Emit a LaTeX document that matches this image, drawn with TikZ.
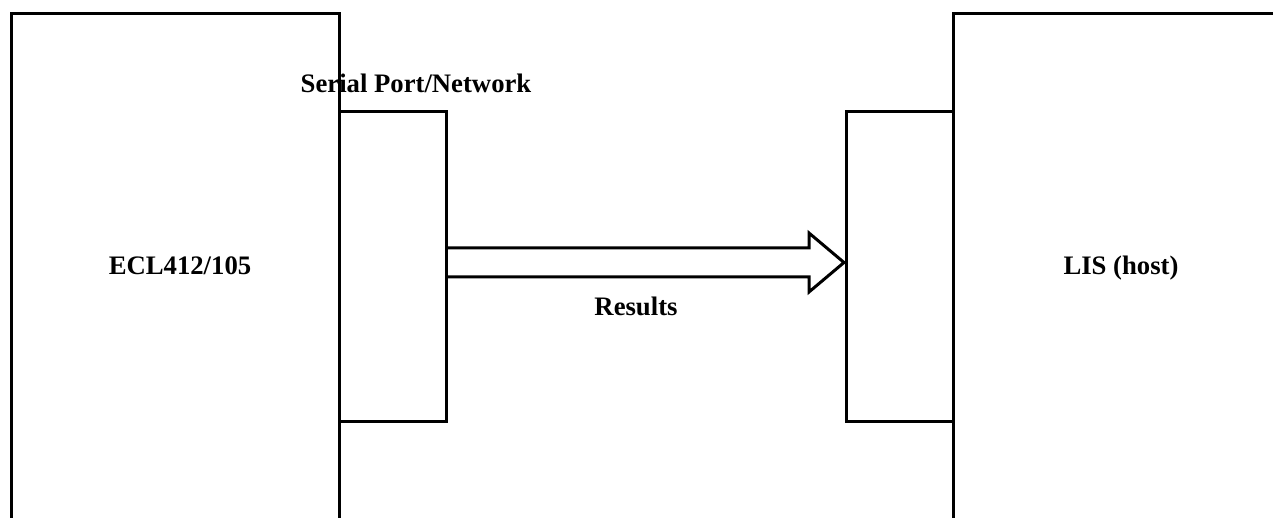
\documentclass[tikz,border=0pt]{standalone}
\usepackage{fontspec}
\setmainfont{Liberation Serif}
\usetikzlibrary{positioning,calc}
\definecolor{spBlack}{HTML}{000000}
\definecolor{spWhite}{HTML}{FFFFFF}
\tikzset{
  sp-box/.style={
    draw=spBlack, line width=3pt, fill=spWhite,
    inner sep=0pt, outer sep=0pt
  },
  sp-host/.style={sp-box, minimum width=328pt, minimum height=520pt},
  sp-port/.style={sp-box, minimum width=107pt, minimum height=309pt},
  sp-text/.style={font=\fontsize{26.7}{30}\selectfont\bfseries,
    text=spBlack, inner sep=0pt},
  sp-flow/.style={draw=spBlack, line width=3pt, line join=miter}
}

\begin{document}
\begin{tikzpicture}[x=1pt, y=-1pt]
\useasboundingbox (0,0) rectangle (1273,518);
\clip (0,0) rectangle (1273,518);
\fill[spWhite] (0,0) rectangle (1273,518);

% analyser and host
\node[sp-host, anchor=north west] (ecl) at (11,14) {};
\node[sp-host, anchor=north west] (lis) at (953,14) {};

% interface ports
\node[sp-port, anchor=north west] (lport) at ($(ecl.north east)+(0,98)$) {};
\node[sp-port, anchor=north east] (rport) at ($(lis.north west)+(0,98)$) {};

% results arrow
\coordinate (a-start) at ($(lport.east)+(0,-4)$);
\coordinate (a-tip) at ($(rport.west)+(-2,-4)$);
\draw[sp-flow] ($(a-start)+(0,-14.5)$) -- ($(a-tip)+(-35,-14.5)$)
  -- ($(a-tip)+(-35,-29.5)$) -- (a-tip) -- ($(a-tip)+(-35,29.5)$)
  -- ($(a-tip)+(-35,14.5)$) -- ($(a-start)+(0,14.5)$);

\node[sp-text] (ecl-label) at (180,266) {ECL412/105};
\node[sp-text] (lis-label) at (1121,268) {LIS (host)};
\node[sp-text] (port-label) at (416,83) {Serial Port/Network};
\node[sp-text] (flow-label) at (636,306) {Results};
\end{tikzpicture}
\end{document}
